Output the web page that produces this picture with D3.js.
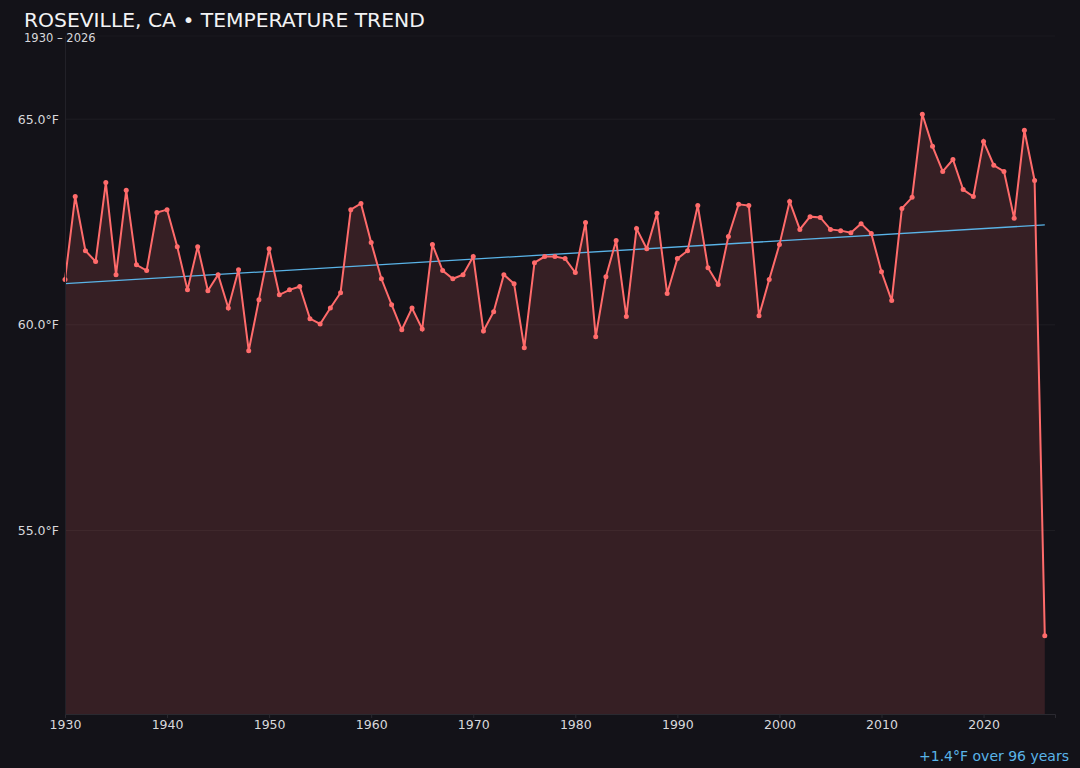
<!DOCTYPE html>
<html>
<head>
<meta charset="utf-8">
<script src="https://cdn.jsdelivr.net/npm/d3@7"></script>
<style>
  html, body { margin: 0; padding: 0; background: #131218; }
  svg { display: block; font-family: "DejaVu Sans", sans-serif; }
</style>
</head>
<body>
<div id="wrapper"></div>
<script>
// annual mean temperature, Roseville CA
const years = d3.range(1930, 2027)
const temps = [
  61.10, 63.12, 61.80, 61.54, 63.46, 61.22, 63.27, 61.46, 61.32, 62.73,
  62.80, 61.90, 60.85, 61.90, 60.83, 61.22, 60.41, 61.34, 59.37, 60.61,
  61.85, 60.73, 60.85, 60.93, 60.15, 60.02, 60.41, 60.78, 62.80, 62.95,
  62.00, 61.12, 60.49, 59.88, 60.41, 59.90, 61.95, 61.32, 61.12, 61.22,
  61.66, 59.85, 60.32, 61.22, 61.00, 59.44, 61.51, 61.66, 61.66, 61.61,
  61.27, 62.49, 59.71, 61.17, 62.05, 60.20, 62.34, 61.85, 62.71, 60.76,
  61.61, 61.80, 62.90, 61.39, 60.98, 62.15, 62.93, 62.90, 60.22, 61.10,
  61.95, 63.00, 62.32, 62.63, 62.61, 62.32, 62.29, 62.24, 62.46, 62.22,
  61.29, 60.59, 62.83, 63.10, 65.12, 64.34, 63.73, 64.02, 63.29, 63.12,
  64.46, 63.88, 63.73, 62.59, 64.73, 63.51, 52.44
]
const xTickYears = [1930, 1940, 1950, 1960, 1970, 1980, 1990, 2000, 2010, 2020]
const titleText = "ROSEVILLE, CA \u2022 TEMPERATURE TREND"
const subtitleText = "1930 \u2013 2026"

const dataset = years.map((y, i) => ({ year: y, temp: temps[i] }))

const dimensions = {
  width: 1080,
  height: 768,
  margin: { top: 36, right: 25, bottom: 54, left: 65 },
}
dimensions.boundedWidth = dimensions.width - dimensions.margin.left - dimensions.margin.right
dimensions.boundedHeight = dimensions.height - dimensions.margin.top - dimensions.margin.bottom

const wrapper = d3.select("#wrapper")
  .append("svg")
  .attr("width", dimensions.width)
  .attr("height", dimensions.height)

wrapper.append("rect")
  .attr("width", dimensions.width)
  .attr("height", dimensions.height)
  .attr("fill", "#131218")

const bounds = wrapper.append("g")
  .attr("transform", `translate(${dimensions.margin.left},${dimensions.margin.top})`)

// scales
const xScale = d3.scaleLinear()
  .domain([1930, 2027])
  .range([0, dimensions.boundedWidth])

const [tMin, tMax] = d3.extent(dataset, d => d.temp)
const pad = (tMax - tMin) * 0.15
const yScale = d3.scaleLinear()
  .domain([tMin - pad, tMax + pad])
  .range([dimensions.boundedHeight, 0])

// grid
const yTicks = yScale.ticks(5)
bounds.selectAll(".grid")
  .data(yTicks)
  .enter().append("line")
    .attr("x1", 0)
    .attr("x2", dimensions.boundedWidth)
    .attr("y1", d => yScale(d))
    .attr("y2", d => yScale(d))
    .attr("stroke", "#ffffff")
    .attr("stroke-opacity", 0.05)

bounds.append("line")
  .attr("x1", 0).attr("x2", dimensions.boundedWidth)
  .attr("y1", 0).attr("y2", 0)
  .attr("stroke", "#ffffff")
  .attr("stroke-opacity", 0.03)

// area + line
const area = d3.area()
  .x(d => xScale(d.year))
  .y0(dimensions.boundedHeight)
  .y1(d => yScale(d.temp))

bounds.append("path")
  .datum(dataset)
  .attr("d", area)
  .attr("fill", "#ff6b6b")
  .attr("fill-opacity", 0.15)

// trend line (least squares)
const meanX = d3.mean(dataset, d => d.year)
const meanY = d3.mean(dataset, d => d.temp)
const slope = d3.sum(dataset, d => (d.year - meanX) * (d.temp - meanY)) /
  d3.sum(dataset, d => (d.year - meanX) ** 2)
const trendAt = yr => meanY + slope * (yr - meanX)
const firstYear = years[0]
const lastYear = years[years.length - 1]

bounds.append("line")
  .attr("x1", xScale(firstYear))
  .attr("y1", yScale(trendAt(firstYear)))
  .attr("x2", xScale(lastYear))
  .attr("y2", yScale(trendAt(lastYear)))
  .attr("stroke", "#5ab4e8")
  .attr("stroke-width", 1.3)

const line = d3.line()
  .x(d => xScale(d.year))
  .y(d => yScale(d.temp))

bounds.append("path")
  .datum(dataset)
  .attr("d", line)
  .attr("fill", "none")
  .attr("stroke", "#ff6b6b")
  .attr("stroke-width", 2)

bounds.selectAll(".dot")
  .data(dataset)
  .enter().append("circle")
    .attr("class", "dot")
    .attr("cx", d => xScale(d.year))
    .attr("cy", d => yScale(d.temp))
    .attr("r", 2.5)
    .attr("fill", "#ff6b6b")

// axes
const xAxis = d3.axisBottom(xScale)
  .tickValues(xTickYears)
  .tickFormat(d3.format("d"))
  .tickSize(4)

const xAxisGroup = bounds.append("g")
  .attr("transform", `translate(0,${dimensions.boundedHeight})`)
  .call(xAxis)
xAxisGroup.select(".domain").attr("stroke", "#2a2930")
xAxisGroup.selectAll(".tick line").attr("stroke", "#2a2930")
xAxisGroup.selectAll(".tick text")
  .attr("fill", "#d8d8dc")
  .attr("font-size", 12.5)
  .attr("dy", "0.62em")
  .attr("font-family", "DejaVu Sans, sans-serif")

const yAxis = d3.axisLeft(yScale)
  .tickValues(yTicks)
  .tickFormat(d => d3.format(".1f")(d) + "\u00b0F")
  .tickSize(0)
  .tickPadding(6)

const yAxisGroup = bounds.append("g").call(yAxis)
yAxisGroup.select(".domain").attr("stroke", "#222128")
yAxisGroup.selectAll(".tick text")
  .attr("fill", "#d8d8dc")
  .attr("font-size", 12.5)
  .attr("font-family", "DejaVu Sans, sans-serif")

// titles
wrapper.append("text")
  .attr("x", 24)
  .attr("y", 27)
  .attr("fill", "#f2f2f4")
  .attr("font-size", 20.3)
  .text(titleText)

wrapper.append("text")
  .attr("x", 24)
  .attr("y", 42)
  .attr("fill", "#d8d8dc")
  .attr("font-size", 11.5)
  .text(subtitleText)

const change = trendAt(lastYear) - trendAt(firstYear)
wrapper.append("text")
  .attr("x", 1069)
  .attr("y", 761)
  .attr("text-anchor", "end")
  .attr("fill", "#5ab4e8")
  .attr("font-size", 14)
  .text(`${change >= 0 ? "+" : ""}${change.toFixed(1)}\u00b0F over ${lastYear - firstYear} years`)
</script>
</body>
</html>
